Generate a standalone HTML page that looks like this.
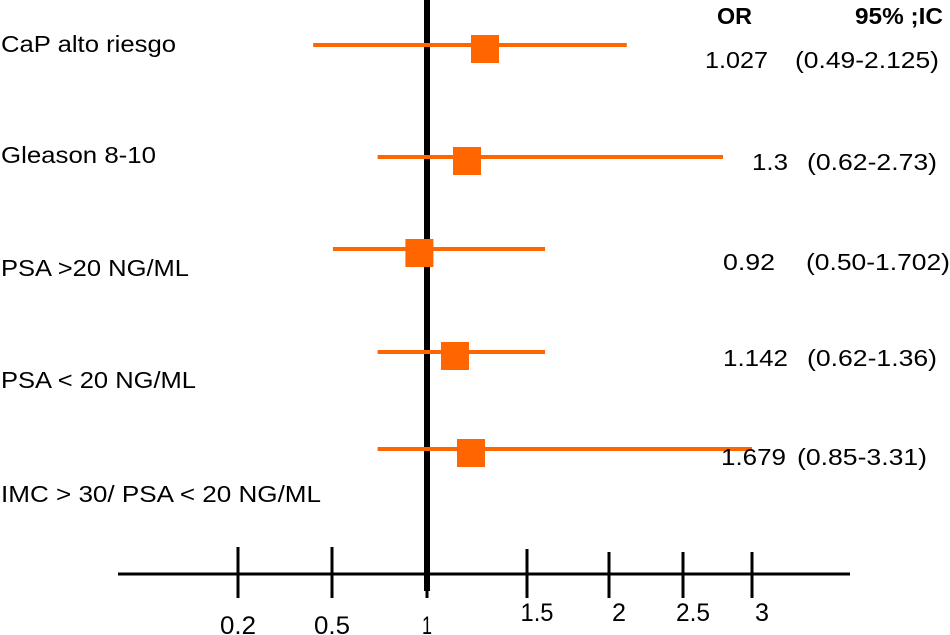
<!DOCTYPE html>
<html><head><meta charset="utf-8"><style>
html,body{margin:0;padding:0;background:#fff}
svg{display:block;font-family:"Liberation Sans",sans-serif}
</style></head><body>
<svg id="chart" width="950" height="635" viewBox="0 0 950 635">
<g id="axis"></g>
<g id="marks"></g>
<g id="texts"></g>
</svg>
<script>
const tickValues=[0.2,0.5,1,1.5,2,2.5,3];
const tickLabels=["0.2","0.5","1","1.5","2","2.5","3"];
const categories=["CaP alto riesgo","Gleason 8-10","PSA >20 NG/ML","PSA < 20 NG/ML","IMC > 30/ PSA < 20 NG/ML"];
const pointEst=[1.29,1.2,0.96,1.14,1.22];
const lowCI=[0.44,0.74,0.505,0.74,0.74];
const highCI=[2.12,2.79,1.61,1.61,3.0];
const orText=["1.027","1.3","0.92","1.142","1.679"];
const ciText=["(0.49-2.125)","(0.62-2.73)","(0.50-1.702)","(0.62-1.36)","(0.85-3.31)"];

const NS="http://www.w3.org/2000/svg";
const tickPx=[238,332,427,527,609,683,752];
function x(v){
  for(let i=0;i<tickValues.length-1;i++){
    if(v<=tickValues[i+1]||i===tickValues.length-2){
      const t=(v-tickValues[i])/(tickValues[i+1]-tickValues[i]);
      return tickPx[i]+t*(tickPx[i+1]-tickPx[i]);
    }
  }
}
const rowY=[45,157,249,352,449];
function y(i){return rowY[i];}
function mk(tag,attrs,parent){const e=document.createElementNS(NS,tag);for(const k in attrs)e.setAttribute(k,attrs[k]);parent.appendChild(e);return e;}
const ax=document.getElementById('axis'),mg=document.getElementById('marks'),tg=document.getElementById('texts');

let e=mk('line',{x1:118,x2:850,y1:574,y2:574,stroke:'#000','stroke-width':3},ax);


const tickLabelY=[634,634,634,621,621,621,621];
const tickTop=[547,547,547,549,552,552,552];
const tickLabelW=[36,36,10,33,14,34,14];
tickValues.forEach((v,i)=>{
  const t=mk('line',{x1:x(v),x2:x(v),y1:tickTop[i],y2:598,stroke:'#000','stroke-width':3},ax);
  
  
  const l=mk('text',{x:x(v)-tickLabelW[i]/2+(i>=3?10:0),y:tickLabelY[i],'font-size':25,fill:'#000',textLength:tickLabelW[i],lengthAdjust:'spacingAndGlyphs'},ax);
  l.textContent=tickLabels[i];
  
  
});
e=mk('line',{x1:x(1),x2:x(1),y1:0,y2:591,stroke:'#000','stroke-width':6},ax);



categories.forEach((c,i)=>{
  const l=mk('line',{x1:x(lowCI[i]),x2:x(highCI[i]),y1:y(i),y2:y(i),stroke:'#ff6600','stroke-width':4},mg);
  
  
  const s=mk('rect',{x:x(pointEst[i])-14,y:y(i)-10,width:28,height:28,fill:'#ff6600'},mg);
  
  
});

const labelY=[52,163,276,388,502];
const labelW=[175,155,188,195,320];
categories.forEach((c,i)=>{
  const t=mk('text',{x:1,y:labelY[i],'font-size':23,fill:'#000',textLength:labelW[i],lengthAdjust:'spacingAndGlyphs'},tg);
  t.textContent=c;
  
  
});
const valY=[68,170,270,366,465];
const orX=[705,752,723,723,721];
const orW=[63,36,52,65,65];
const ciX=[795,807,806,807,797];
const ciW=[144,130,144,130,130];
orText.forEach((s,i)=>{
  const a=mk('text',{x:orX[i],y:valY[i],'font-size':23,fill:'#000',textLength:orW[i],lengthAdjust:'spacingAndGlyphs'},tg);
  a.textContent=s;
  
  
  const b=mk('text',{x:ciX[i],y:valY[i],'font-size':23,fill:'#000',textLength:ciW[i],lengthAdjust:'spacingAndGlyphs'},tg);
  b.textContent=ciText[i];
  
  
});
let h=mk('text',{x:717,y:24,'font-size':23,'font-weight':'bold',fill:'#000',textLength:35,lengthAdjust:'spacingAndGlyphs'},tg);
h.textContent="OR";


h=mk('text',{x:855,y:24,'font-size':23,'font-weight':'bold',fill:'#000',textLength:88,lengthAdjust:'spacingAndGlyphs'},tg);
h.textContent="95% ;IC";


</script>
</body></html>
